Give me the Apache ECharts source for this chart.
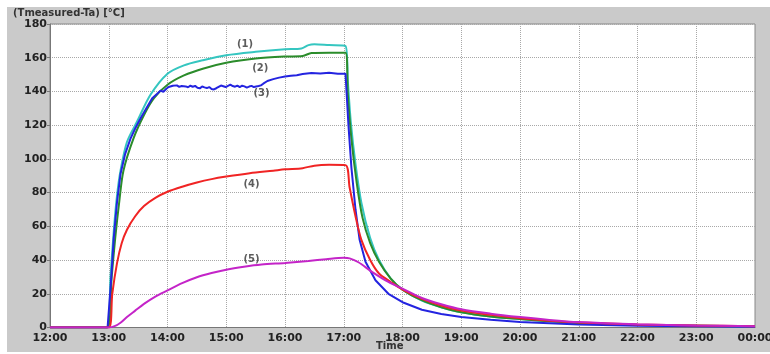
<!DOCTYPE html>
<html>
<head>
<meta charset="utf-8">
<script src="https://cdn.jsdelivr.net/npm/echarts@6/dist/echarts.min.js"></script>
<style>
  body { margin: 0; background: #fff; }
  #main { position: absolute; left: 7px; top: 7px; width: 763px; height: 345px; background: #cacaca; }
</style>
</head>
<body>
<div id="main"></div>
<script>
// [time in hours, Tmeasured-Ta]
var curve1 = [[12,0],[12.97,0],[13.03,30],[13.085,57],[13.14,78],[13.2,93],[13.31,110],[13.48,122],[13.71,138],[14.0,150.5],[14.28,155.5],[14.6,158.5],[15.0,161.5],[15.5,163.5],[16.0,165],[16.28,165.5],[16.4,167.5],[16.5,168],[16.75,167.5],[17.03,167],[17.07,146],[17.12,122],[17.2,97],[17.3,74],[17.45,53],[17.6,40],[17.8,29],[18.0,22.5],[18.33,16],[18.66,12],[19.0,9],[19.5,6.5],[20.0,5],[20.5,3.7],[21.0,2.7],[22.0,1.5],[23.0,1],[24.0,0.7]];
var curve2 = [[12,0],[12.97,0],[13.05,30],[13.11,53],[13.18,75],[13.25,93],[13.42,112],[13.6,126],[13.77,136],[14.0,144],[14.28,149.5],[14.6,153.5],[15.0,157],[15.5,159.5],[16.0,160.7],[16.3,161],[16.45,162.8],[16.75,163],[17.03,163],[17.07,138],[17.13,112],[17.22,86],[17.32,65],[17.45,50],[17.6,39],[17.8,29],[18.0,22.5],[18.33,16.2],[18.66,12],[19.0,9],[19.5,6.5],[20.0,5],[20.5,3.7],[21.0,2.7],[22.0,1.5],[23.0,1],[24.0,0.7]];
var curve3 = [[12,0],[12.98,0],[13.04,28],[13.085,53],[13.14,74],[13.2,91],[13.28,103],[13.37,112],[13.45,118],[13.54,124],[13.64,130],[13.74,136],[13.82,138.5],[13.88,140.5],[13.93,139.8],[13.98,141.6],
  [14.02,142.6],[14.05,142.1],[14.09,143.4],[14.12,142.8],[14.16,143.6],[14.2,142.7],[14.24,143.2],[14.27,144.1],[14.31,143],[14.35,142.5],[14.39,143.4],[14.43,142.8],[14.47,143.3],[14.51,142.2],[14.55,141.8],[14.59,142.9],[14.63,142.4],[14.67,142],[14.71,142.6],[14.75,141.5],[14.79,141.2],[14.83,141.9],[14.87,142.7],[14.91,143.5],[14.95,143.1],[14.99,142.6],
  [15.03,143.3],[15.07,144],[15.11,143.2],[15.15,142.8],[15.19,143.5],[15.23,142.6],[15.27,143.4],[15.31,143],[15.35,142.3],[15.39,142.9],[15.43,143.3],[15.47,142.6],[15.51,142.9],[15.55,143.2],[15.59,143.6],[15.63,144.6],[15.7,146.2],[15.8,147.3],[15.9,148.2],
  [16.0,148.8],[16.1,149.3],[16.2,149.6],[16.3,150.3],[16.45,151],[16.6,150.6],[16.75,151.1],[16.9,150.5],[17.03,150.5],[17.08,120],[17.13,95],[17.2,70],[17.27,52],[17.37,39],[17.54,28],[17.76,20],
  [18.0,15],[18.33,10.5],[18.66,8],[19.0,6.2],[19.5,4.6],[20.0,3.2],[21.0,1.8],[22.0,1.1],[23.0,0.7],[24.0,0.5]];
var curve4 = [[12,0],[13.0,0],[13.06,20],[13.14,38],[13.22,50],[13.31,58],[13.45,66],[13.6,72],[13.8,77],[14.0,80.5],[14.25,83.5],[14.5,86],[14.75,88],[15.0,89.5],[15.4,91.5],[15.8,93],[16.0,93.8],[16.3,94.5],[16.5,96],[16.75,96.5],[17.03,96.3],[17.1,83],[17.2,66],[17.3,52],[17.45,40],[17.6,32],[17.8,27],[18.0,22.5],[18.33,17],[18.66,13],[19.0,10],[19.5,7.5],[20.0,5.5],[20.5,4],[21.0,3],[22.0,1.8],[23.0,1.2],[24.0,0.8]];
var curve5 = [[12,0],[13.0,0],[13.1,0.8],[13.2,2.8],[13.31,6.2],[13.45,10],[13.6,14],[13.8,18.5],[14.0,22],[14.25,26.3],[14.5,29.8],[14.75,32.3],[15.0,34.3],[15.3,36],[15.6,37.3],[16.0,38.3],[16.4,39.5],[16.7,40.5],[17.0,41.3],[17.1,41],[17.25,38.7],[17.48,33],[17.76,27],[18.0,23],[18.33,17.5],[18.66,13.8],[19.0,10.8],[19.5,8.2],[20.0,6.2],[20.5,4.5],[21.0,3.2],[22.0,1.9],[23.0,1.2],[24.0,0.8]];

var curveNames = ['(1)', '(2)', '(3)', '(4)', '(5)'];
var curveColors = ['#35c6c0', '#2b8c2b', '#2424e0', '#f02424', '#c424c8'];
// where the curve numbers sit [time, value]
var namePos = [[15.32, 168], [15.58, 153.8], [15.6, 139], [15.43, 85], [15.43, 40.3]];

var chart = echarts.init(document.getElementById('main'));

var curves = [curve1, curve2, curve3, curve4, curve5];
var series = curves.map(function (c, i) {
  return {
    name: curveNames[i],
    type: 'line',
    data: c,
    showSymbol: false,
    smooth: i == 2 ? false : 0.3,
    lineStyle: { color: curveColors[i], width: 2 },
    itemStyle: { color: curveColors[i] },
    z: 2 + i
  };
});

series.push({
  type: 'scatter',
  symbolSize: 0,
  data: namePos.map(function (p, i) { return { value: p, name: curveNames[i] }; }),
  label: {
    show: true,
    position: 'inside',
    formatter: '{b}',
    color: '#333',
    fontFamily: 'DejaVu Sans',
    fontWeight: 'bold',
    fontSize: 10
  },
  z: 10
});

var option = {
  animation: false,
  title: {
    text: '(Tmeasured-Ta) [\u00b0C]',
    left: 6,
    top: 1,
    padding: 0,
    textStyle: { fontFamily: 'DejaVu Sans', fontWeight: 'bold', fontSize: 10, color: '#333' }
  },
  graphic: [{
    type: 'text',
    left: 369,
    top: 334,
    style: { text: 'Time', font: 'bold 10px "DejaVu Sans"', fill: '#333' }
  }],
  grid: {
    left: 43, right: 15, top: 17, bottom: 24.5,
    outerBoundsMode: 'none',
    show: true, backgroundColor: '#fff', borderColor: '#888', borderWidth: 1
  },
  xAxis: {
    type: 'value',
    min: 12, max: 24, interval: 1,
    axisLine: { lineStyle: { color: '#777' } },
    axisTick: { show: false },
    axisLabel: {
      margin: 5,
      fontFamily: 'DejaVu Sans', fontWeight: 'bold', fontSize: 11, color: '#222',
      formatter: function (v) { var h = v % 24; return (h < 10 ? '0' : '') + h + ':00'; }
    },
    splitLine: { lineStyle: { color: '#a8a8a8', type: 'dotted' } }
  },
  yAxis: {
    type: 'value',
    min: 0, max: 180, interval: 20,
    axisLine: { show: true, lineStyle: { color: '#777' } },
    axisTick: { show: true, length: 3, lineStyle: { color: '#777' } },
    axisLabel: { margin: 3, fontFamily: 'DejaVu Sans', fontWeight: 'bold', fontSize: 11, color: '#222' },
    splitLine: { lineStyle: { color: '#a8a8a8', type: 'dotted' } }
  },
  series: series
};

chart.setOption(option);
</script>
</body>
</html>
